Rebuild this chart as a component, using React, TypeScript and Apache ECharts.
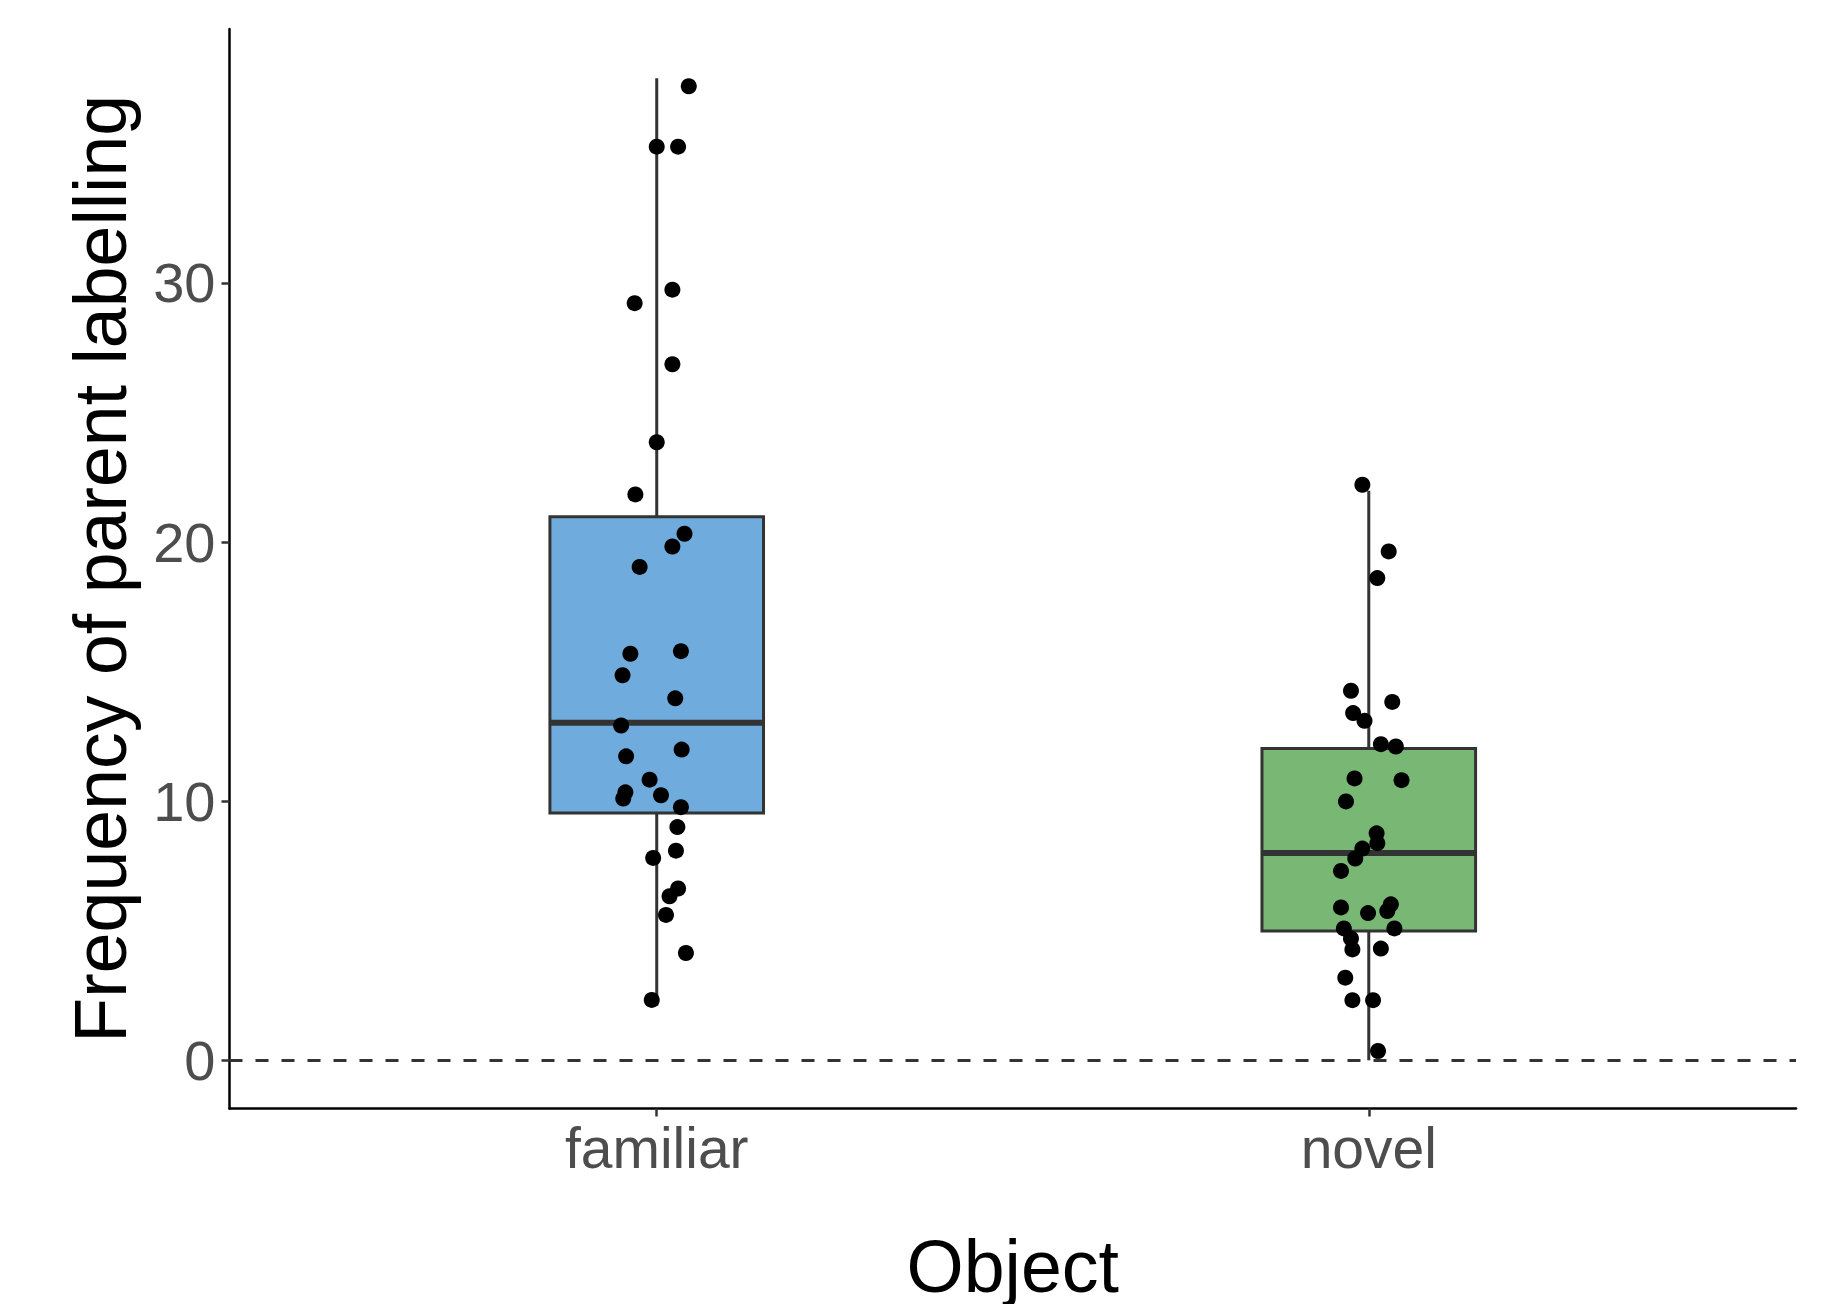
import React, { useEffect, useRef } from "react";
import * as echarts from "echarts";

// Categories (x positions 1 and 2)
const categories = ["familiar", "novel"];
const yTicks = [0, 10, 20, 30];

// Box statistics: [min whisker, Q1, median, Q3, max whisker]
const familiarBox = [2.1, 9.54, 13.03, 20.98, 37.9];
const novelBox = [0.0, 4.99, 8.0, 12.03, 21.98];

// Jittered observations (values) and horizontal jitter (category units)
const familiarValues = [
  37.59, 35.26, 35.26, 29.74, 29.22, 26.86, 23.85, 21.84, 20.32, 19.83, 19.04,
  15.69, 15.79, 14.86, 13.97, 12.92, 11.99, 11.73, 10.83, 10.34, 10.1, 10.23,
  9.77, 9.0, 8.09, 7.81, 6.63, 6.33, 5.61, 4.14, 2.33,
];
const familiarJitter = [
  0.045, 0.0, 0.03, 0.022, -0.031, 0.022, 0.0, -0.03, 0.039, 0.022, -0.024,
  -0.037, 0.034, -0.048, 0.026, -0.05, 0.035, -0.043, -0.01, -0.044, -0.047, 0.006,
  0.034, 0.029, 0.027, -0.005, 0.03, 0.018, 0.013, 0.041, -0.007,
];
const novelValues = [
  22.21, 19.64, 18.61, 14.26, 13.83, 13.4, 13.1, 12.2, 12.11, 10.88, 10.81,
  9.99, 8.76, 8.38, 8.17, 7.79, 7.31, 6.02, 5.9, 5.76, 5.68, 5.09, 5.09, 4.7,
  4.28, 4.31, 3.19, 2.32, 2.32, 0.36,
];
const novelJitter = [
  -0.009, 0.028, 0.012, -0.025, 0.033, -0.022, -0.006, 0.017, 0.038, -0.02, 0.046,
  -0.032, 0.011, 0.012, -0.009, -0.019, -0.039, 0.031, -0.039, 0.026, -0.001, -0.035,
  0.036, -0.025, -0.023, 0.017, -0.033, -0.023, 0.006, 0.013,
];

const boxColors = ["#6FACDD", "#78B874"];
const FONT = "'Liberation Sans', Arial, Helvetica, sans-serif";

export default function App() {
  const ref = useRef<HTMLDivElement>(null);

  useEffect(() => {
    if (!ref.current) return;
    const chart = echarts.init(ref.current, undefined, { renderer: "svg" });
    const halfW = 0.15;

    const boxData = [
      [1, ...familiarBox],
      [2, ...novelBox],
    ];
    const pointData = [
      ...familiarValues.map((v, i) => [1 + familiarJitter[i], v]),
      ...novelValues.map((v, i) => [2 + novelJitter[i], v]),
    ];

    chart.setOption({
      animation: false,
      backgroundColor: "#ffffff",
      grid: {
        left: 229.5,
        right: 49,
        top: 29,
        bottom: 195.5,
        containLabel: false,
        outerBoundsMode: "none",
      },
      xAxis: {
        type: "value",
        min: 0.4,
        max: 2.6,
        name: "Object",
        nameLocation: "middle",
        nameGap: 121,
        nameTextStyle: { fontFamily: FONT, fontSize: 73.5, color: "#000000" },
        axisLine: { show: true, onZero: false, lineStyle: { color: "#000000", width: 2.5 } },
        axisTick: { show: true, customValues: [1, 2], length: 8, lineStyle: { color: "#333333", width: 2.5 } },
        axisLabel: {
          show: true,
          customValues: [1, 2],
          margin: 11,
          fontFamily: FONT,
          fontSize: 57,
          color: "#4D4D4D",
          formatter: (v: number) => categories[Math.round(v) - 1] ?? "",
        },
        splitLine: { show: false },
      },
      yAxis: {
        type: "value",
        min: -1.86,
        max: 39.8,
        name: "Frequency of parent labelling",
        nameLocation: "middle",
        nameGap: 92,
        nameRotate: 90,
        nameTextStyle: { fontFamily: FONT, fontSize: 73.5, color: "#000000" },
        axisLine: { show: true, onZero: false, lineStyle: { color: "#000000", width: 2.5 } },
        axisTick: { show: true, customValues: yTicks, length: 8, lineStyle: { color: "#333333", width: 2.5 } },
        axisLabel: {
          show: true,
          customValues: yTicks,
          margin: 14,
          fontFamily: FONT,
          fontSize: 56,
          color: "#4D4D4D",
        },
        splitLine: { show: false },
      },
      series: [
        {
          type: "custom",
          z: 2,
          data: boxData,
          encode: { x: 0, y: [1, 2, 3, 4, 5] },
          renderItem: (params: any, api: any) => {
            const x = api.value(0);
            const wMin = api.coord([x, api.value(1)]);
            const q1L = api.coord([x - halfW, api.value(2)]);
            const medL = api.coord([x - halfW, api.value(3)]);
            const q3R = api.coord([x + halfW, api.value(4)]);
            const wMax = api.coord([x, api.value(5)]);
            const stroke = "#333333";
            return {
              type: "group",
              children: [
                {
                  type: "line",
                  shape: { x1: wMin[0], y1: wMin[1], x2: wMin[0], y2: q1L[1] },
                  style: { stroke, lineWidth: 3 },
                },
                {
                  type: "line",
                  shape: { x1: wMax[0], y1: q3R[1], x2: wMax[0], y2: wMax[1] },
                  style: { stroke, lineWidth: 3 },
                },
                {
                  type: "rect",
                  shape: { x: q1L[0], y: q3R[1], width: q3R[0] - q1L[0], height: q1L[1] - q3R[1] },
                  style: { fill: boxColors[params.dataIndex], stroke, lineWidth: 3 },
                },
                {
                  type: "line",
                  shape: { x1: medL[0], y1: medL[1], x2: q3R[0], y2: medL[1] },
                  style: { stroke, lineWidth: 6 },
                },
              ],
            };
          },
        },
        {
          type: "scatter",
          z: 3,
          data: pointData,
          symbol: "circle",
          symbolSize: 16,
          itemStyle: { color: "#000000", opacity: 1 },
          markLine: {
            silent: true,
            symbol: ["none", "none"],
            label: { show: false },
            z: 1,
            lineStyle: { color: "#333333", width: 3, type: [13, 13], opacity: 1 },
            data: [{ yAxis: 0 }],
          },
        },
      ],
    });

    return () => chart.dispose();
  }, []);

  return (
    <div
      ref={ref}
      style={{ position: "absolute", left: 0, top: 0, width: 1845, height: 1304 }}
    />
  );
}
